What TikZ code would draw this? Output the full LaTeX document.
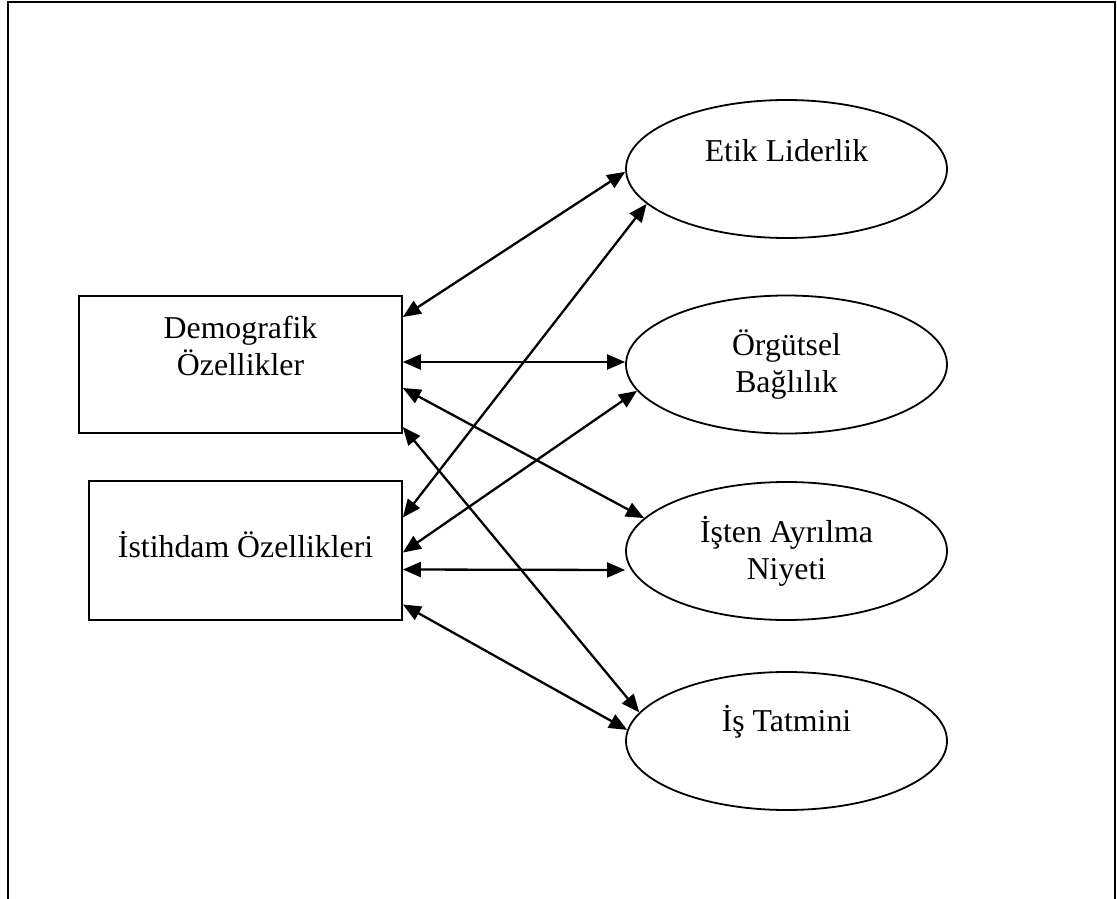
\documentclass[tikz,border=0pt]{standalone}
\usepackage{fontspec}
\setmainfont{Liberation Serif}
\usetikzlibrary{arrows.meta,shapes.geometric}
\begin{document}
\begin{tikzpicture}[x=1pt,y=-1pt,
  every node/.style={font=\fontsize{31.8pt}{37pt}\selectfont, align=center, inner sep=0pt},
  box/.style={draw, line width=1.6pt, rectangle},
  oval/.style={draw, line width=1.8pt, ellipse, minimum width=321pt, minimum height=138pt},
  link/.style={line width=2.3pt, {Triangle[length=18pt,width=15pt]}-{Triangle[length=18pt,width=15pt]}},
  frame/.style={line width=2.6pt}]
\useasboundingbox (0,0) rectangle (1117,899);
\draw[frame] (8,899) -- (8,2) -- (1115,2) -- (1115,899);

\node[box, minimum width=323pt, minimum height=137pt] (dem) at (240.5,364.5) {Demografik\\Özellikler\\\mbox{}};
\node[box, minimum width=313pt, minimum height=139pt, text depth=12pt] (ist) at (245.6,550.5) {İstihdam Özellikleri};

\node[oval] (etik) at (786.5,169) {Etik Liderlik\\\mbox{}};
\node[oval] (org) at (786.5,364.5) {Örgütsel\\Bağlılık};
\node[oval] (isten) at (786.5,551) {İşten Ayrılma\\Niyeti};
\node[oval, text depth=8pt] (tatmin) at (786.5,741) {İş Tatmini\\\mbox{}};

\draw[link] ([yshift=47.5pt]dem.east) -- (etik.181);
\draw[link] ([yshift=2.5pt]dem.east) -- ([yshift=2.5pt]org.west);
\draw[link] ([yshift=-23.5pt]dem.east) -- (isten.167);
\draw[link] ([yshift=-62.5pt]dem.east) -- (tatmin.169);
\draw[link] ([yshift=33pt]ist.east) -- (etik.194);
\draw[link] ([yshift=-2pt]ist.east) -- (org.190);
\draw[link] ([yshift=-19pt]ist.east) -- ([yshift=-19pt]isten.west);
\draw[link] ([yshift=-54pt]ist.east) -- (tatmin.176);
\end{tikzpicture}
\end{document}
